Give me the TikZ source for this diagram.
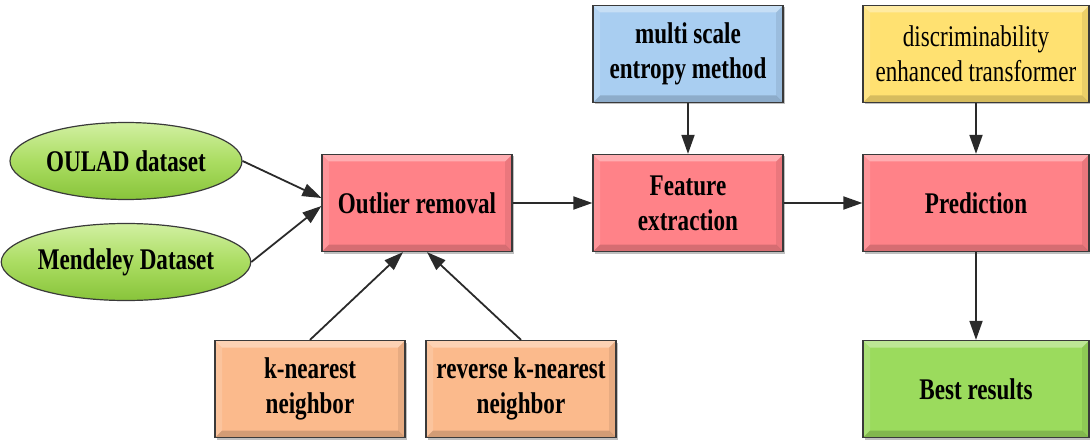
\documentclass[tikz,border=0pt]{standalone}
\usepackage{fontspec}
\newfontfamily\figfont{Liberation Serif}[FakeStretch=0.77]
\usetikzlibrary{arrows.meta,shapes.geometric,shadows}

\definecolor{boxline}{HTML}{3A3A3A}
\definecolor{arrowline}{HTML}{2A2A2A}
\definecolor{pinkfill}{HTML}{FF8288}
\definecolor{bluefill}{HTML}{A9CEF1}
\definecolor{yellowfill}{HTML}{FFE171}
\definecolor{orangefill}{HTML}{FBBA8C}
\definecolor{greenfill}{HTML}{9BDB5D}
\definecolor{ovaltop}{HTML}{D2F0A2}
\definecolor{ovalmid}{HTML}{ABDD62}
\definecolor{ovalbot}{HTML}{88C43A}

\tikzset{
  bevel/.style={path picture={
    \coordinate (bvnw) at (path picture bounding box.north west);
    \coordinate (bvne) at (path picture bounding box.north east);
    \coordinate (bvsw) at (path picture bounding box.south west);
    \coordinate (bvse) at (path picture bounding box.south east);
    \fill[white,opacity=0.35] (bvnw) -- (bvne) -- ([shift={(-7pt,-7pt)}]bvne) -- ([shift={(7pt,-7pt)}]bvnw) -- cycle;
    \fill[white,opacity=0.15] (bvnw) -- ([shift={(7pt,-7pt)}]bvnw) -- ([shift={(7pt,7pt)}]bvsw) -- (bvsw) -- cycle;
    \fill[black,opacity=0.16] (bvsw) -- (bvse) -- ([shift={(-7pt,7pt)}]bvse) -- ([shift={(7pt,7pt)}]bvsw) -- cycle;
    \fill[black,opacity=0.08] (bvne) -- ([shift={(-7pt,-7pt)}]bvne) -- ([shift={(-7pt,7pt)}]bvse) -- (bvse) -- cycle;
  }},
  card/.style={draw=boxline, line width=1.3pt, inner sep=0pt, align=center,
    minimum width=190pt, minimum height=97pt, bevel,
    drop shadow={shadow xshift=2pt, shadow yshift=-2pt, opacity=0.25, fill=black}},
  oval/.style={ellipse, draw=boxline, line width=1.2pt, inner sep=0pt,
    minimum width=232pt, minimum height=77pt,
    top color=ovaltop, bottom color=ovalbot, middle color=ovalmid},
  flow/.style={draw=arrowline, line width=1.8pt,
    -{Triangle[length=19pt,width=13pt]}},
  every node/.style={font=\figfont\fontsize{30}{35}\selectfont\bfseries}
}

\begin{document}
\begin{tikzpicture}[x=1pt,y=-1pt]
\useasboundingbox (0,0) rectangle (1090,441);

% data sources
\node[oval] (oulad) at (126,161) {OULAD dataset};
\node[oval] (mendeley) at (126,262) {Mendeley Dataset};

% main pipeline
\node[card, fill=pinkfill] (outlier) at (417,203) {Outlier removal};
\node[card, fill=pinkfill] (feature) at (688,203) {Feature\\extraction};
\node[card, fill=pinkfill, minimum width=226pt] (predict) at (976,203) {Prediction};
\node[card, fill=greenfill, minimum width=226pt] (best) at (976,389) {Best results};

% supporting methods
\node[card, fill=bluefill] (mse) at (688,54) {multi scale\\entropy method};
\node[card, fill=yellowfill, minimum width=226pt,
      font=\figfont\fontsize{30}{35}\selectfont\mdseries] (det) at (976,54) {discriminability\\enhanced transformer};
\node[card, fill=orangefill] (knn) at (310,389) {k-nearest\\neighbor};
\node[card, fill=orangefill] (rknn) at (521,389) {reverse k-nearest\\neighbor};

% connectors
\draw[flow] (oulad.east) -- ([yshift=5pt]outlier.west);
\draw[flow] (mendeley.east) -- ([yshift=-3pt]outlier.west);
\draw[flow] (knn.north) -- ([xshift=-14pt]outlier.south);
\draw[flow] (rknn.north) -- ([xshift=10pt]outlier.south);
\draw[flow] (outlier.east) -- (feature.west);
\draw[flow] (mse.south) -- (feature.north);
\draw[flow] (feature.east) -- (predict.west);
\draw[flow] (det.south) -- (predict.north);
\draw[flow] (predict.south) -- (best.north);
\end{tikzpicture}
\end{document}
